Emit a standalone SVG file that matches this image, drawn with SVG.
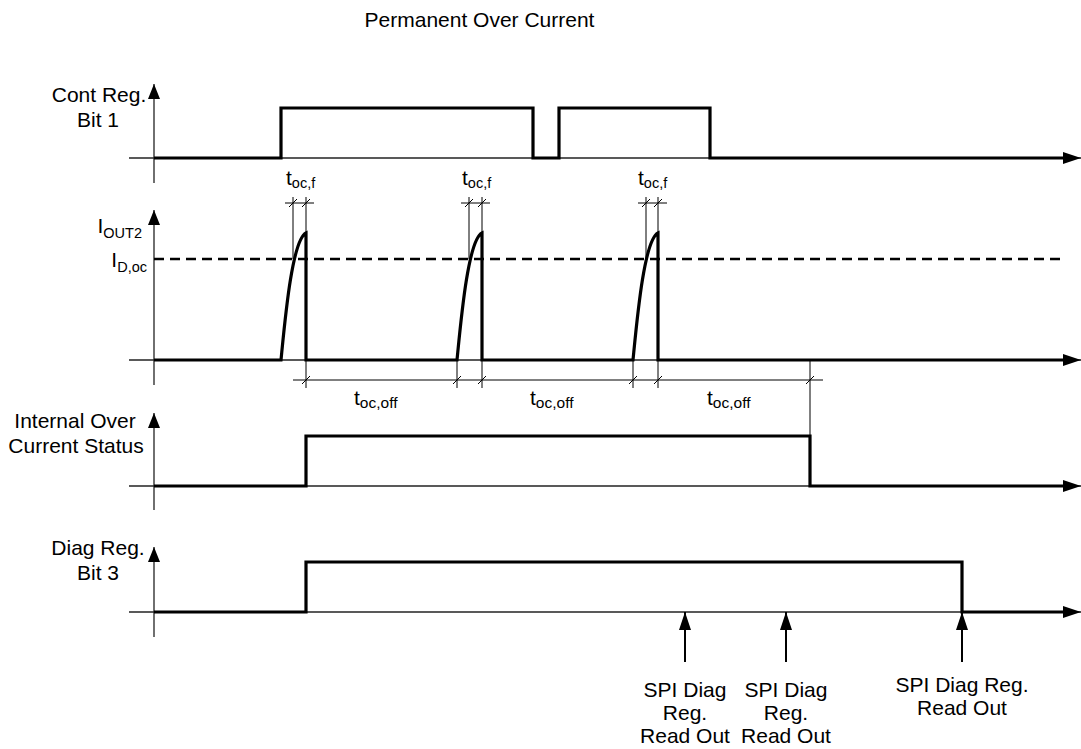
<svg xmlns="http://www.w3.org/2000/svg" width="1081" height="749" viewBox="0 0 1081 749">
<style>
text{font-family:"Liberation Sans",Arial,sans-serif;font-size:21px;fill:#000}
.c{text-anchor:middle}
.e{text-anchor:end}
.sub{font-size:14.5px}
.subo{font-size:15.5px}
.ax{stroke:#222;stroke-width:1.3;fill:none}
.sig{stroke:#000;stroke-width:3.2;fill:none;stroke-linejoin:miter;stroke-linecap:butt}
.dim{stroke:#000;stroke-width:1;fill:none}
.dash{stroke:#000;stroke-width:2.5;stroke-dasharray:10 6;fill:none}
.ro{stroke:#000;stroke-width:2;fill:none}
</style>
<defs>
<marker id="ah" markerUnits="userSpaceOnUse" markerWidth="18" markerHeight="12" refX="18" refY="6" orient="auto"><path d="M0,0 L18,6 L0,12 z" fill="#000"/></marker>
<marker id="av" markerUnits="userSpaceOnUse" markerWidth="15" markerHeight="12" refX="15" refY="6" orient="auto"><path d="M0,0 L15,6 L0,12 z" fill="#000"/></marker>
<path id="tk" d="M-4,4 L4,-4" class="dim"/>
</defs>
<text class="c" x="479.5" y="27">Permanent Over Current</text>
<g id="cont-reg-bit1">
<line class="ax" x1="129" y1="158" x2="1081" y2="158" marker-end="url(#ah)"/>
<line class="ax" x1="154" y1="183" x2="154" y2="84" marker-end="url(#av)"/>
<path class="sig" d="M154,158 H281 V108 H533 V158 H559 V108 H710 V158 H1063"/>
<text class="c" x="99" y="101.5">Cont Reg.</text>
<text class="c" x="98" y="126.5">Bit 1</text>
</g>
<g id="iout2">
<line class="ax" x1="129" y1="360" x2="1081" y2="360" marker-end="url(#ah)"/>
<line class="ax" x1="154" y1="385" x2="154" y2="210" marker-end="url(#av)"/>
<line class="dash" x1="154" y1="259" x2="1066" y2="259"/>
<path class="sig" d="M154,360 H281 C285,320 292,240 306,233 V360 H457 C461,320 468,240 482,233 V360 H633 C637,320 644,240 658,233 V360 H1063"/>
<text class="e" x="142" y="233">I<tspan class="sub" dy="5">OUT2</tspan></text>
<text class="e" x="147" y="266.5">I<tspan class="sub" dy="5">D,oc</tspan></text>
</g>
<g id="internal-oc-status">
<line class="ax" x1="129" y1="486" x2="1081" y2="486" marker-end="url(#ah)"/>
<line class="ax" x1="154" y1="510" x2="154" y2="413" marker-end="url(#av)"/>
<path class="sig" d="M154,486 H306 V436 H810 V486 H1063"/>
<text class="c" x="75" y="428">Internal Over</text>
<text class="c" x="76" y="453">Current Status</text>
</g>
<g id="diag-reg-bit3">
<line class="ax" x1="129" y1="612" x2="1081" y2="612" marker-end="url(#ah)"/>
<line class="ax" x1="154" y1="637" x2="154" y2="547" marker-end="url(#av)"/>
<path class="sig" d="M154,612 H306 V562 H962 V612 H1063"/>
<text class="c" x="98" y="555">Diag Reg.</text>
<text class="c" x="98" y="580">Bit 3</text>
</g>
<g id="dimensions">
<path class="dim" d="M285,203 H314 M293,197 V259 M306,197 V233"/>
<path class="dim" d="M461,203 H490 M469,197 V259 M482,197 V233"/>
<path class="dim" d="M638,203 H667 M646,197 V259 M658,197 V233"/>
<use href="#tk" x="293" y="203"/><use href="#tk" x="306" y="203"/>
<use href="#tk" x="469" y="203"/><use href="#tk" x="482" y="203"/>
<use href="#tk" x="646" y="203"/><use href="#tk" x="658" y="203"/>
<text x="286" y="184.5">t<tspan class="sub" dy="3">oc,f</tspan></text>
<text x="462" y="184.5">t<tspan class="sub" dy="3">oc,f</tspan></text>
<text x="638" y="184.5">t<tspan class="sub" dy="3">oc,f</tspan></text>
<path class="dim" d="M293,380 H823 M306,360 V388 M457,360 V388 M482,360 V388 M633,360 V388 M658,360 V388 M810,360 V436"/>
<use href="#tk" x="306" y="380"/><use href="#tk" x="457" y="380"/><use href="#tk" x="482" y="380"/>
<use href="#tk" x="633" y="380"/><use href="#tk" x="658" y="380"/><use href="#tk" x="810" y="380"/>
<text x="354" y="405">t<tspan class="subo" dy="3">oc,off</tspan></text>
<text x="530" y="405">t<tspan class="subo" dy="3">oc,off</tspan></text>
<text x="707" y="405">t<tspan class="subo" dy="3">oc,off</tspan></text>
</g>
<g id="readouts">
<line class="ro" x1="685" y1="662" x2="685" y2="612" marker-end="url(#ah)"/>
<line class="ro" x1="786" y1="662" x2="786" y2="612" marker-end="url(#ah)"/>
<line class="ro" x1="962" y1="662" x2="962" y2="612" marker-end="url(#ah)"/>
<text class="c" x="685" y="696.5">SPI Diag</text>
<text class="c" x="685" y="720">Reg.</text>
<text class="c" x="685" y="743">Read Out</text>
<text class="c" x="786" y="696.5">SPI Diag</text>
<text class="c" x="786" y="720">Reg.</text>
<text class="c" x="786" y="743">Read Out</text>
<text class="c" x="962" y="691.5">SPI Diag Reg.</text>
<text class="c" x="962" y="715">Read Out</text>
</g>
</svg>
